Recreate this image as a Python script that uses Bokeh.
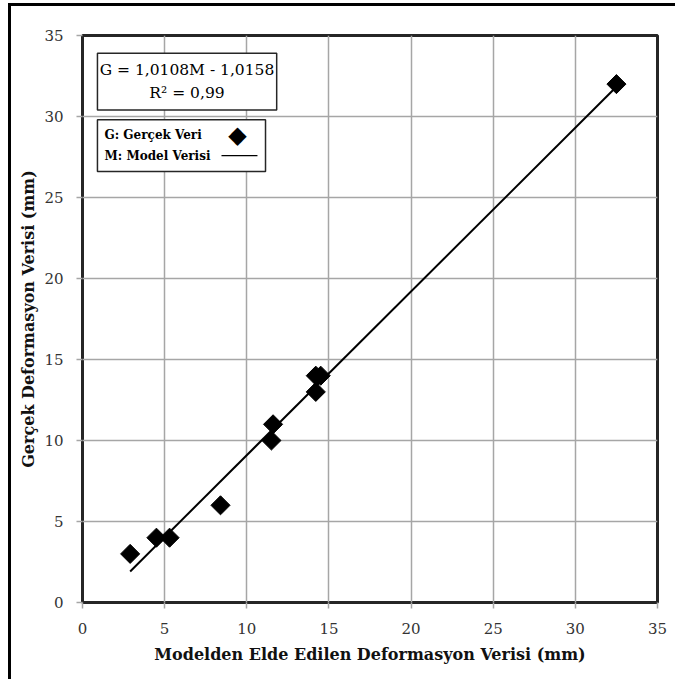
from bokeh.plotting import figure
from bokeh.models import Label, BoxAnnotation, Range1d, FixedTicker
from bokeh.embed import file_html
from bokeh.resources import INLINE

# ---- data ----
model_mm = [2.9, 4.5, 5.3, 8.4, 11.5, 11.6, 14.2, 14.2, 14.5, 32.5]
real_mm = [3, 4, 4, 6, 10, 11, 13, 14, 14, 32]
x_ticks = [0, 5, 10, 15, 20, 25, 30, 35]
y_ticks = [0, 5, 10, 15, 20, 25, 30, 35]
slope = 1.0108
intercept = -1.0158
eq_text = "G = 1,0108M - 1,0158"
r2_text = "R\u00b2 = 0,99"
legend_labels = ["G: Ger\u00e7ek Veri", "M: Model Verisi"]
x_label = "Modelden Elde Edilen Deformasyon Verisi (mm)"
y_label = "Ger\u00e7ek Deformasyon Verisi (mm)"

SERIF = "DejaVu Serif"
DARK = "#262626"
GRID = "#a6a6a6"

fit_x = [min(model_mm), max(model_mm)]
fit_y = [slope * v + intercept for v in fit_x]

p = figure(width=667, height=676, x_range=Range1d(0, 35), y_range=Range1d(0, 35),
           output_backend="svg", toolbar_location=None,
           min_border_left=71, min_border_right=21, min_border_top=29, min_border_bottom=80)
p.styles = {"border-top": "3px solid black", "border-left": "3px solid black",
            "margin-left": "8px", "margin-top": "3px"}

p.outline_line_color = DARK
p.outline_line_width = 3
p.background_fill_color = "white"
p.border_fill_color = "white"

p.grid.grid_line_color = GRID
p.grid.grid_line_width = 1.5
p.xaxis.ticker = FixedTicker(ticks=x_ticks)
p.yaxis.ticker = FixedTicker(ticks=y_ticks)
for ax in (p.xaxis, p.yaxis):
    ax.axis_line_color = None
    ax.major_tick_in = 0
    ax.major_tick_out = 6
    ax.major_tick_line_color = GRID
    ax.major_tick_line_width = 1.5
    ax.minor_tick_line_color = None
    ax.major_label_text_font = SERIF
    ax.major_label_text_font_size = "15px"
    ax.major_label_text_color = "#333333"
    ax.axis_label_text_font = SERIF
    ax.axis_label_text_font_size = "16px"
    ax.axis_label_text_font_style = "bold"
    ax.axis_label_text_color = "#111111"
p.xaxis.major_label_standoff = 14
p.yaxis.major_label_standoff = 13
p.xaxis.axis_label = x_label
p.yaxis.axis_label = y_label
p.xaxis.axis_label_standoff = 8
p.yaxis.axis_label_standoff = 3

p.line(fit_x, fit_y, line_color="black", line_width=2)
p.scatter(model_mm, real_mm, marker="square", angle=0.785398, size=13.5,
          fill_color="black", line_color="black")

# equation box
p.add_layout(BoxAnnotation(left=0.91, right=11.82, bottom=30.4, top=33.9,
                           fill_color="white", fill_alpha=1.0,
                           line_color=DARK, line_width=1.5, line_alpha=1.0))
p.add_layout(Label(x=6.36, y=32.84, text=eq_text, text_align="center", text_baseline="middle",
                   text_font=SERIF, text_font_size="15.5px", text_color="black"))
p.add_layout(Label(x=6.36, y=31.48, text=r2_text, text_align="center", text_baseline="middle",
                   text_font=SERIF, text_font_size="15.5px", text_color="black"))

# legend box (swatch on the right)
p.add_layout(BoxAnnotation(left=0.91, right=11.14, bottom=26.6, top=29.8,
                           fill_color="white", fill_alpha=1.0,
                           line_color=DARK, line_width=1.5, line_alpha=1.0))
p.add_layout(Label(x=1.34, y=28.83, text=legend_labels[0], text_align="left", text_baseline="middle",
                   text_font=SERIF, text_font_size="12px", text_font_style="bold",
                   text_color="black"))
p.add_layout(Label(x=1.34, y=27.59, text=legend_labels[1], text_align="left", text_baseline="middle",
                   text_font=SERIF, text_font_size="12px", text_font_style="bold",
                   text_color="black"))
p.add_layout(Label(x=9.43, y=28.83, text="\u25c6", text_align="center", text_baseline="middle",
                   text_font="DejaVu Sans", text_font_size="24px", text_color="black"))
p.add_layout(BoxAnnotation(left=8.46, right=10.65, bottom=27.55, top=27.63,
                           fill_color="black", fill_alpha=1.0, line_color=None))

open("out.html", "w").write(file_html(p, INLINE))
